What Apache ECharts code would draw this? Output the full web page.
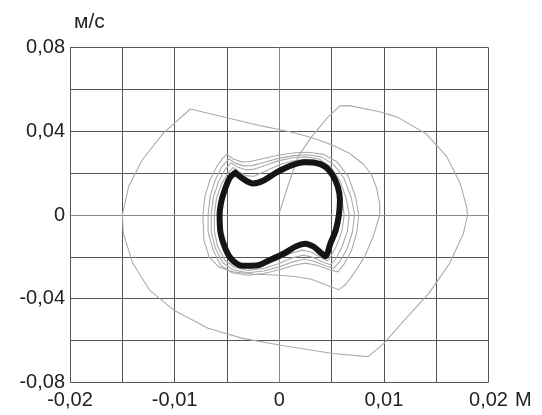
<!DOCTYPE html>
<html lang="ru">
<head>
    <meta charset="UTF-8">
    <title>Фазовый портрет</title>
    <script src="https://cdn.jsdelivr.net/npm/echarts@6/dist/echarts.min.js"></script>
    <style>
        html, body {margin: 0; padding: 0; background: #fff;}
        #main {width: 542px; height: 415px;}
    </style>
</head>
<body>
<div id="main"></div>
<script type="text/javascript">
    // tick labels (comma decimals, every second tick labelled)
    var xTickLabels = ['-0,02', '', '-0,01', '', '0', '', '0,01', '', '0,02'];
    var yTickLabels = ['-0,08', '', '-0,04', '', '0', '', '0,04', '', '0,08'];

    // first big loop, starts at the origin
    var loop1 = [
        [0.0000, 0.0008], [0.0008, 0.0135], [0.0018, 0.0279], [0.0031, 0.0375], [0.0047, 0.0470],
        [0.0058, 0.0522], [0.0067, 0.0523], [0.0095, 0.0495], [0.0113, 0.0468], [0.0140, 0.0390],
        [0.0160, 0.0280], [0.0173, 0.0151], [0.0179, 0.0040], [0.0180, 0.0000], [0.0176, -0.0088],
        [0.0163, -0.0230], [0.0143, -0.0375], [0.0120, -0.0500], [0.0100, -0.0614], [0.0085, -0.0677],
        [0.0051, -0.0662], [0.0000, -0.0622], [-0.0035, -0.0590], [-0.0068, -0.0542], [-0.0101, -0.0454],
        [-0.0124, -0.0359], [-0.0140, -0.0231], [-0.0149, -0.0088], [-0.0150, 0.0000], [-0.0144, 0.0135],
        [-0.0131, 0.0263], [-0.0111, 0.0390], [-0.0085, 0.0507]
    ];
    // second loop
    var loop2 = [
        [-0.0085, 0.0507], [-0.0050, 0.0465], [-0.0017, 0.0426], [0.0010, 0.0398], [0.0030, 0.0372],
        [0.0050, 0.0336], [0.0067, 0.0295], [0.0080, 0.0245], [0.0088, 0.0195], [0.0093, 0.0130],
        [0.0096, 0.0056], [0.0096, 0.0000], [0.0090, -0.0100], [0.0082, -0.0195], [0.0074, -0.0260],
        [0.0064, -0.0330], [0.0057, -0.0357], [0.0045, -0.0335], [0.0030, -0.0306], [0.0015, -0.0294],
        [0.0000, -0.0288], [-0.0025, -0.0282], [-0.0044, -0.0272], [-0.0058, -0.0248], [-0.0067, -0.0200],
        [-0.0072, -0.0120], [-0.0073, 0.0000], [-0.0071, 0.0090], [-0.0066, 0.0170], [-0.0060, 0.0230],
        [-0.0054, 0.0272], [-0.0050, 0.0290]
    ];
    // spiral loops converging on the cycle
    var loop3 = [
        [-0.0050, 0.0290], [-0.0044, 0.0268], [-0.0036, 0.0254], [-0.0028, 0.0256], [-0.0015, 0.0270],
        [0.0000, 0.0287], [0.0015, 0.0298], [0.0028, 0.0300], [0.0042, 0.0290], [0.0055, 0.0255],
        [0.0066, 0.0185], [0.0073, 0.0085], [0.0076, 0.0000], [0.0074, -0.0085], [0.0069, -0.0170],
        [0.0062, -0.0235], [0.0056, -0.0272], [0.0048, -0.0262], [0.0036, -0.0240], [0.0025, -0.0230],
        [0.0014, -0.0240], [0.0000, -0.0262], [-0.0015, -0.0280], [-0.0030, -0.0288], [-0.0045, -0.0276],
        [-0.0056, -0.0240], [-0.0063, -0.0170], [-0.0068, -0.0080], [-0.0068, 0.0000], [-0.0066, 0.0090],
        [-0.0061, 0.0170], [-0.0055, 0.0230], [-0.0048, 0.0268]
    ];
    var loop4 = [
        [-0.0048, 0.0268], [-0.0042, 0.0248], [-0.0034, 0.0235], [-0.0026, 0.0236], [-0.0014, 0.0252],
        [0.0000, 0.0272], [0.0014, 0.0284], [0.0027, 0.0288], [0.0040, 0.0278], [0.0052, 0.0242],
        [0.0062, 0.0175], [0.0069, 0.0080], [0.0072, 0.0000], [0.0070, -0.0080], [0.0065, -0.0160],
        [0.0058, -0.0222], [0.0052, -0.0255], [0.0045, -0.0245], [0.0034, -0.0222], [0.0024, -0.0212],
        [0.0013, -0.0224], [0.0000, -0.0248], [-0.0015, -0.0268], [-0.0030, -0.0276], [-0.0044, -0.0262],
        [-0.0054, -0.0228], [-0.0061, -0.0160], [-0.0065, -0.0080], [-0.0065, 0.0000], [-0.0063, 0.0085],
        [-0.0058, 0.0160], [-0.0052, 0.0215], [-0.0046, 0.0250]
    ];
    var loop5 = [
        [-0.0046, 0.0250], [-0.0040, 0.0230], [-0.0032, 0.0216], [-0.0025, 0.0218], [-0.0013, 0.0238],
        [0.0000, 0.0260], [0.0013, 0.0274], [0.0026, 0.0278], [0.0038, 0.0268], [0.0049, 0.0232],
        [0.0058, 0.0165], [0.0064, 0.0078], [0.0067, 0.0000], [0.0065, -0.0078], [0.0060, -0.0152],
        [0.0054, -0.0210], [0.0049, -0.0238], [0.0042, -0.0226], [0.0032, -0.0202], [0.0023, -0.0192],
        [0.0012, -0.0206], [0.0000, -0.0232], [-0.0014, -0.0255], [-0.0030, -0.0265], [-0.0043, -0.0250],
        [-0.0052, -0.0215], [-0.0059, -0.0150], [-0.0062, -0.0075], [-0.0062, 0.0000], [-0.0060, 0.0080],
        [-0.0055, 0.0150], [-0.0049, 0.0200], [-0.0044, 0.0228]
    ];
    var loop6 = [
        [-0.0044, 0.0228], [-0.0038, 0.0205], [-0.0031, 0.0187], [-0.0024, 0.0185], [-0.0013, 0.0210],
        [0.0000, 0.0240], [0.0012, 0.0258], [0.0025, 0.0266], [0.0036, 0.0260], [0.0046, 0.0234],
        [0.0055, 0.0170], [0.0060, 0.0080], [0.0062, 0.0000], [0.0060, -0.0076], [0.0055, -0.0145],
        [0.0049, -0.0200], [0.0046, -0.0220], [0.0040, -0.0205], [0.0031, -0.0178], [0.0022, -0.0168],
        [0.0010, -0.0185], [0.0000, -0.0210], [-0.0012, -0.0235], [-0.0028, -0.0255], [-0.0041, -0.0240],
        [-0.0049, -0.0200], [-0.0056, -0.0130], [-0.0059, -0.0060], [-0.0059, 0.0000], [-0.0057, 0.0075],
        [-0.0052, 0.0140], [-0.0047, 0.0185], [-0.0042, 0.0202]
    ];
    // steady limit cycle (thick)
    var cycle = [
        [-0.0042, 0.0202], [-0.0036, 0.0178], [-0.0030, 0.0159], [-0.0025, 0.0151], [-0.0015, 0.0165],
        [-0.0002, 0.0205], [0.0011, 0.0236], [0.0024, 0.0252], [0.0034, 0.0250], [0.0044, 0.0231],
        [0.0051, 0.0191], [0.0056, 0.0135], [0.0058, 0.0072], [0.0057, 0.0000], [0.0054, -0.0072],
        [0.0049, -0.0135], [0.0044, -0.0197], [0.0040, -0.0182], [0.0033, -0.0152], [0.0025, -0.0137],
        [0.0016, -0.0150], [0.0005, -0.0183], [-0.0009, -0.0215], [-0.0022, -0.0242], [-0.0035, -0.0243],
        [-0.0045, -0.0215], [-0.0051, -0.0167], [-0.0056, -0.0088], [-0.0057, 0.0000], [-0.0055, 0.0072],
        [-0.0051, 0.0135], [-0.0047, 0.0180], [-0.0042, 0.0202]
    ];

    var transient = [loop1, loop2, loop3, loop4, loop5, loop6];
    var series = [];
    for (var i = 0; i < transient.length; i++) {
        series.push({
            type: 'line', data: transient[i], showSymbol: false, silent: true,
            lineStyle: {color: '#ababab', width: 1.1}
        });
    }
    series.push({
        type: 'line', data: cycle, showSymbol: false, silent: true, smooth: 0.3,
        lineStyle: {color: '#151515', width: 6, join: 'round', cap: 'round'}
    });

    var fontName = 'Liberation Sans';
    var myChart = echarts.init(document.getElementById('main'));
    myChart.setOption({
        animation: false,
        grid: {left: 70, right: 53.5, top: 47.7, bottom: 32.7},
        xAxis: {
            type: 'value', min: -0.02, max: 0.02, interval: 0.005,
            axisLine: {show: true, lineStyle: {color: '#888', width: 1}},
            axisTick: {show: false},
            splitLine: {show: true, showMinLine: true, showMaxLine: true, lineStyle: {color: '#555', width: 1}},
            axisLabel: {
                margin: 8, fontSize: 20, color: '#222', fontFamily: fontName,
                formatter: function (v) { return xTickLabels[Math.round((v + 0.02) / 0.005)]; }
            }
        },
        yAxis: {
            type: 'value', min: -0.08, max: 0.08, interval: 0.02,
            axisLine: {show: true, lineStyle: {color: '#888', width: 1}},
            axisTick: {show: false},
            splitLine: {show: true, showMinLine: true, showMaxLine: true, lineStyle: {color: '#555', width: 1}},
            axisLabel: {
                margin: 5, fontSize: 20, color: '#222', fontFamily: fontName,
                formatter: function (v) { return yTickLabels[Math.round((v + 0.08) / 0.02)]; }
            }
        },
        graphic: [
            {type: 'text', left: 74, top: 12, style: {text: 'м/с', fontSize: 21, fill: '#222', fontFamily: fontName}},
            {type: 'text', left: 515, top: 390, style: {text: 'М', fontSize: 20, fill: '#222', fontFamily: fontName}}
        ],
        series: series
    });
</script>
</body>
</html>
